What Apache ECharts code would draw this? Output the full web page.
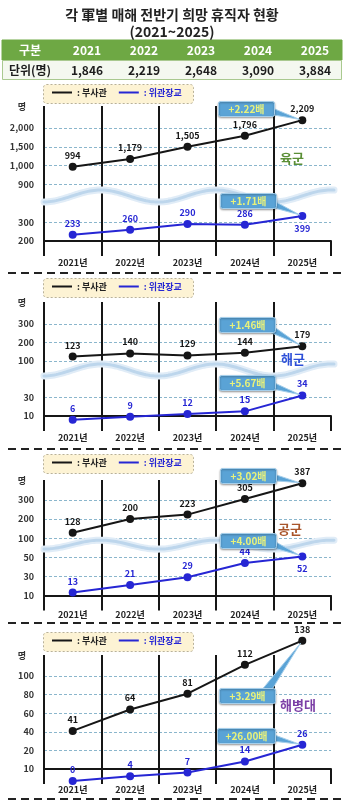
<!DOCTYPE html>
<html>
<head>
<meta charset="utf-8">
<script src="https://cdn.jsdelivr.net/npm/echarts@6/dist/echarts.min.js"></script>
<style>
html,body{margin:0;padding:0;background:#ffffff;}
#c{width:344px;height:801px;}
</style>
</head>
<body>
<div id="c"></div>
<script>
// ---------- data ----------
const titleLine1 = '각 軍별 매해 전반기 희망 휴직자 현황';
const titleLine2 = '(2021~2025)';
const tableHead = ['구분', '2021', '2022', '2023', '2024', '2025'];
const tableRowLabel = '단위(명)';
const tableTotals = [1846, 2219, 2648, 3090, 3884];

const years = ['2021년', '2022년', '2023년', '2024년', '2025년'];
const seriesNames = ['부사관', '위관장교'];

const armyNco = [994, 1179, 1505, 1796, 2209];
const armyOfficer = [233, 260, 290, 286, 399];
const navyNco = [123, 140, 129, 144, 179];
const navyOfficer = [6, 9, 12, 15, 34];
const airNco = [128, 200, 223, 305, 387];
const airOfficer = [13, 21, 29, 44, 52];
const marineNco = [41, 64, 81, 112, 138];
const marineOfficer = [0, 4, 7, 14, 26];

const armyTicks = [200, 300, 900, 1000, 1500, 2000];
const navyTicks = [10, 30, 100, 200, 300];
const airTicks = [10, 30, 50, 100, 200, 300];
const marineTicks = [10, 20, 40, 60, 80, 100];

const armyRatios = ['+2.22배', '+1.71배'];
const navyRatios = ['+1.46배', '+5.67배'];
const airRatios = ['+3.02배', '+4.00배'];
const marineRatios = ['+3.29배', '+26.00배'];

const branchNames = ['육군', '해군', '공군', '해병대'];
const unitLabel = '명';

// ---------- layout / style ----------
const FONT = '"Noto Sans CJK KR", "Noto Sans", sans-serif';
const BLACK = '#161616';
const BLUE = '#2626d4';

const panels = [
  { nco: armyNco, off: armyOfficer, ticks: armyTicks, ratio: armyRatios, color: '#5b8f36',
    slots: [0, 1, 3, 4, 5, 6], min: -0.69, max: 7.17, top: 106, base: 254, legendTop: 84,
    wave: { slot: 2.39, amp: 6 }, namePos: [292, 158], ncoBox: [218, 101], offBox: [220, 193],
    offBelow: [4], floor: null },
  { nco: navyNco, off: navyOfficer, ticks: navyTicks, ratio: navyRatios, color: '#2d4fd8',
    slots: [0, 1, 3, 4, 5], min: -0.71, max: 6.2, top: 302, base: 429, legendTop: 278,
    wave: { slot: 2.5, amp: 6 }, namePos: [293, 359], ncoBox: [219, 317], offBox: [219, 375],
    offBelow: [], floor: null },
  { nco: airNco, off: airOfficer, ticks: airTicks, ratio: airRatios, color: '#a9552a',
    slots: [0, 1, 2, 3, 4, 5], min: -0.55, max: 6.04, top: 480, base: 606, legendTop: 454,
    wave: { slot: 2.66, amp: 4.5 }, namePos: [290, 529], ncoBox: [220, 468], offBox: [220, 533],
    offBelow: [4], floor: null },
  { nco: marineNco, off: marineOfficer, ticks: marineTicks, ratio: marineRatios, color: '#7c3fa6',
    slots: [0, 1, 2, 3, 4, 5], min: -0.645, max: 6.13, top: 655, base: 781, legendTop: 632,
    wave: null, namePos: [298, 705], ncoBox: [219, 688], offBox: [217, 728],
    offBelow: [], floor: 0 }
];
const separators = [273, 449, 623, 799];

// broken / piecewise axis: value -> axis slot position through the tick knots
function toSlot(v, p) {
  const kv = p.ticks.slice(), ks = p.slots.slice();
  if (p.floor !== null) { kv.unshift(p.floor); ks.unshift(p.min); }
  let i;
  if (v <= kv[0]) i = 0;
  else if (v >= kv[kv.length - 1]) i = kv.length - 2;
  else { i = 0; while (!(v >= kv[i] && v <= kv[i + 1])) i++; }
  return ks[i] + (v - kv[i]) / (kv[i + 1] - kv[i]) * (ks[i + 1] - ks[i]);
}
const fmt = v => Number(v).toLocaleString('en-US');

const chart = echarts.init(document.getElementById('c'), null, { renderer: 'canvas', width: 344, height: 801 });

const grid = [], xAxis = [], yAxis = [], series = [], legend = [];
panels.forEach((p, i) => {
  grid.push({ left: 44, right: 13, top: p.top, height: p.base - p.top, containLabel: false, outerBoundsMode: 'none' });
  xAxis.push({
    type: 'category', gridIndex: i, data: years, boundaryGap: true,
    axisLine: { show: true, lineStyle: { color: BLACK, width: 2 } },
    axisTick: { show: true, length: 15, lineStyle: { color: BLACK, width: 2 } },
    axisLabel: { show: true, color: '#222', fontSize: 9, fontWeight: 'bold', fontFamily: FONT, margin: 4 },
    splitLine: { show: true, showMaxLine: false, lineStyle: { color: BLACK, width: 2 } }
  });
  yAxis.push({
    type: 'value', gridIndex: i, min: p.min, max: p.max,
    axisLine: { show: false },
    axisTick: { show: false, customValues: p.slots },
    axisLabel: {
      show: true, customValues: p.slots, margin: 10, color: '#333', fontSize: 9, fontWeight: 'bold', fontFamily: FONT,
      formatter: v => { const k = p.slots.findIndex(s => Math.abs(s - v) < 1e-6); return k >= 0 ? fmt(p.ticks[k]) : ''; }
    },
    splitLine: { show: true, lineStyle: { color: '#8bb6cc', width: 1, type: [3, 2] } }
  });
  const mk = (vals, below) => vals.map((v, j) => {
    const d = { value: toSlot(v, p), raw: v };
    if (below.includes(j)) d.label = { position: 'bottom', distance: 4 };
    return d;
  });
  [[p.nco, BLACK, []], [p.off, BLUE, p.offBelow]].forEach(([vals, col, below], k) => {
    series.push({
      type: 'line', name: seriesNames[k], xAxisIndex: i, yAxisIndex: i, clip: false, z: 3,
      data: mk(vals, below),
      symbol: 'circle', symbolSize: 8,
      lineStyle: { color: col, width: 2 }, itemStyle: { color: col },
      label: { show: true, position: 'top', distance: 3, color: col, fontSize: 9, fontWeight: 'bold', fontFamily: FONT,
        formatter: prm => fmt(prm.data.raw) },
      emphasis: { disabled: true }
    });
  });
  legend.push({
    top: p.legendTop + 4, left: 52, icon: 'rect', itemWidth: 20, itemHeight: 2, itemGap: 12, z: 10,
    selectedMode: false, padding: 0, formatter: n => ': ' + n,
    textStyle: { fontSize: 9, fontWeight: 'bold', fontFamily: FONT },
    data: [{ name: seriesNames[0], textStyle: { color: '#222' } }, { name: seriesNames[1], textStyle: { color: BLUE } }]
  });
});

chart.setOption({
  animation: false,
  backgroundColor: '#ffffff',
  grid, xAxis, yAxis, series, legend
});

// ---------- decorations (text, table, legend boxes, break bands, callouts) ----------
const g = [];
function txt(x, y, text, size, color, weight, align) {
  g.push({ type: 'text', x, y, z: 20, silent: true,
    style: { text, fill: color, fontSize: size, fontWeight: weight || 'bold', fontFamily: FONT,
      align: align || 'center', verticalAlign: 'middle', textAlign: align || 'center', textVerticalAlign: 'middle' } });
}
txt(172, 15, titleLine1, 14, '#222');
txt(172, 32, titleLine2, 14, '#222');
g.push({ type: 'rect', silent: true, z: 5, shape: { x: 2, y: 40, width: 340, height: 20 }, style: { fill: '#6ea844', stroke: '#6ea844' } });
g.push({ type: 'rect', silent: true, z: 5, shape: { x: 2.5, y: 60.5, width: 339, height: 19 }, style: { fill: '#f4f8ef', stroke: '#a9c98f', lineWidth: 1 } });
tableHead.forEach((t, k) => txt(k === 0 ? 30 : 87 + 57 * (k - 1), 50, t, 12, '#ffffff'));
txt(30, 70, tableRowLabel, 12, '#1d1d1d');
tableTotals.forEach((v, k) => txt(87 + 57 * k, 70, fmt(v), 12, '#1d1d1d'));

separators.forEach(y => g.push({ type: 'line', silent: true, z: 5, shape: { x1: 8, y1: y, x2: 342, y2: y },
  style: { stroke: '#222', lineWidth: 2, lineDash: [8, 5] } }));

panels.forEach((p, i) => {
  // legend box
  g.push({ type: 'rect', silent: true, z: 4, shape: { x: 43.5, y: p.legendTop + 0.5, width: 150, height: 19, r: 3 },
    style: { fill: '#fdf3d4', stroke: '#b8b199', lineWidth: 1, lineDash: [2, 2] } });
  // unit label
  txt(22, p.top + 1, unitLabel, 9, '#333');
  // branch name
  txt(p.namePos[0], p.namePos[1], branchNames[i], 13, p.color);
  // break band
  if (p.wave) {
    const cy = chart.convertToPixel({ yAxisIndex: i }, p.wave.slot);
    const pts = [];
    for (let x = 44; x <= 334; x += 2) pts.push([x, cy - p.wave.amp * Math.sin(2 * Math.PI * (x - 72) / 115)]);
    g.push({ type: 'polyline', silent: true, z: 2, shape: { points: pts }, style: { stroke: '#e0ecf7', lineWidth: 7, fill: null, lineCap: 'round' } });
    g.push({ type: 'polyline', silent: true, z: 2, shape: { points: pts }, style: { stroke: '#bdd6ec', lineWidth: 3, fill: null, lineCap: 'round' } });
  }
  // callouts
  [[p.nco, p.ncoBox, p.ratio[0]], [p.off, p.offBox, p.ratio[1]]].forEach(([vals, box, label]) => {
    const pt = chart.convertToPixel({ xAxisIndex: i, yAxisIndex: i }, [years[4], toSlot(vals[4], p)]);
    const w = label.length > 6 ? 58 : 56, h = 15;
    const ax = box[0] + w - 12, ay = box[1] + h / 2;
    let dx = pt[0] - ax, dy = pt[1] - ay; const L = Math.hypot(dx, dy) || 1; dx /= L; dy /= L;
    const half = 4.5;
    g.push({ type: 'polygon', silent: true, z: 30,
      shape: { points: [[ax - dy * half, ay + dx * half], [ax + dy * half, ay - dx * half], [pt[0] - dx * 3, pt[1] - dy * 3]] },
      style: { fill: '#5aa3d6', stroke: '#a6cfeb', lineWidth: 1 } });
    g.push({ type: 'rect', silent: true, z: 31, shape: { x: box[0] + 0.5, y: box[1] + 0.5, width: w, height: h, r: 2 },
      style: { fill: '#5aa3d6', stroke: '#a6cfeb', lineWidth: 1, shadowBlur: 2, shadowColor: 'rgba(0,0,0,0.35)', shadowOffsetY: 1 } });
    g.push({ type: 'text', x: box[0] + 0.5 + w / 2, y: box[1] + 0.5 + h / 2, z: 32, silent: true,
      style: { text: label, fill: '#e9f27a', fontSize: 10, fontWeight: 'bold', fontFamily: FONT,
        align: 'center', verticalAlign: 'middle', textAlign: 'center', textVerticalAlign: 'middle' } });
  });
});

chart.setOption({ graphic: { elements: g } });
</script>
</body>
</html>
